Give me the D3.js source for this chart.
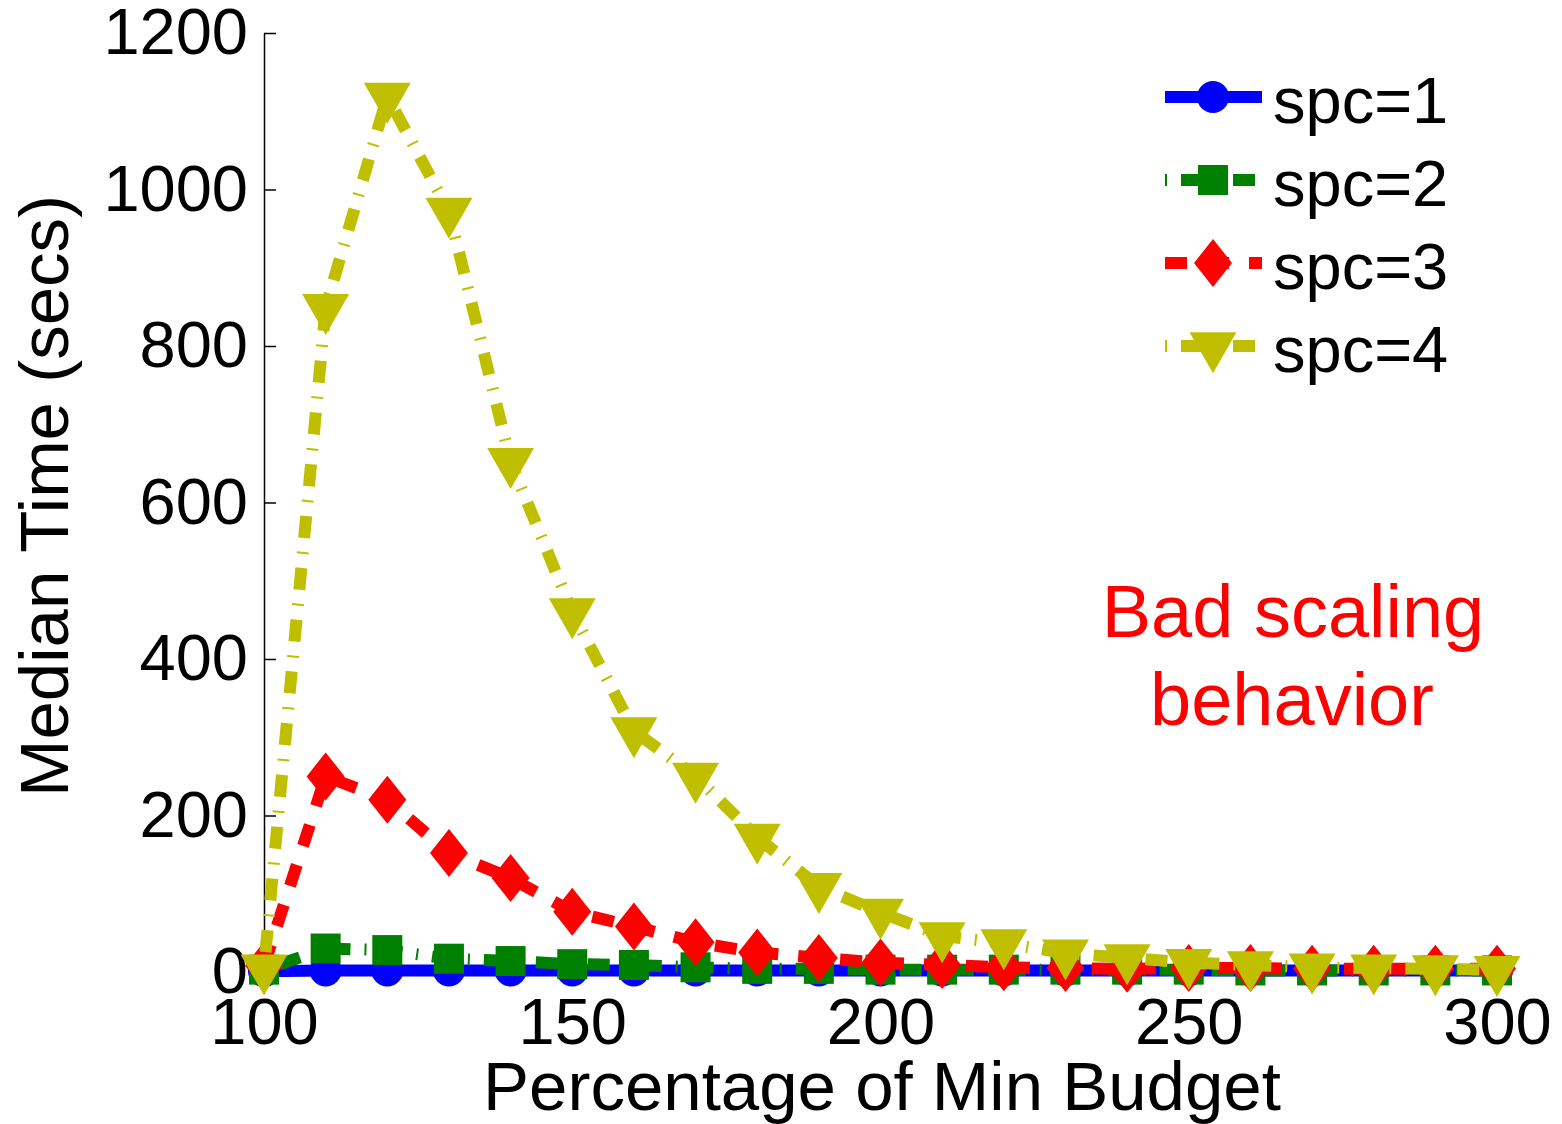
<!DOCTYPE html>
<html>
<head>
<meta charset="utf-8">
<script src="https://cdn.jsdelivr.net/npm/d3@7"></script>
<style>
  html, body { margin: 0; padding: 0; background: #fff; }
  svg { display: block; font-family: Arial, "Liberation Sans", sans-serif; }
</style>
</head>
<body>
<div id="chart"></div>
<script>
// x values (percentage of min budget)
const budget = [100, 110, 120, 130, 140, 150, 160, 170, 180, 190, 200,
                210, 220, 230, 240, 250, 260, 270, 280, 290, 300];

// median time (secs) per series
const spc1 = [1, 2, 2, 2, 2, 2, 2, 2, 2, 2, 2, 2, 2, 2, 2, 2, 2, 2, 2, 2, 2];
const spc2 = [3, 30, 28, 17, 14, 10, 9, 6, 4, 4, 3, 3, 3, 3, 3, 3, 2, 2, 2, 2, 2];
const spc3 = [8, 250, 220, 152, 120, 77, 58, 38, 25, 18, 12, 9, 6, 5, 4, 5, 5, 4, 4, 4, 4];
const spc4 = [5, 849, 1119, 972, 652, 460, 308, 250, 172, 109, 76, 46, 37, 24, 18, 12, 9, 6, 5, 4, 3];

const seriesNames = ['spc=1', 'spc=2', 'spc=3', 'spc=4'];
const xTicks = [100, 150, 200, 250, 300];
const yTicks = [0, 200, 400, 600, 800, 1000, 1200];

const W = 1562, H = 1124;

const series = [
    { name: seriesNames[0], values: spc1, color: '#0000ff', dash: null, marker: 'circle' },
    { name: seriesNames[1], values: spc2, color: '#008000', dash: '2,14,22,14', marker: 'square' },
    { name: seriesNames[2], values: spc3, color: '#ff0000', dash: '22,20', marker: 'diamond' },
    { name: seriesNames[3], values: spc4, color: '#bfbf00', dash: '2,14,22,14', marker: 'triangle' }
];

const x = d3.scaleLinear().domain([100, 300]).range([264, 1497]);
const y = d3.scaleLinear().domain([0, 1200]).range([972, 33]);

const svg = d3.select('#chart').append('svg')
    .attr('width', W)
    .attr('height', H);

// marker shapes, drawn around (0,0)
function markerPath(type) {
    switch (type) {
        case 'circle':
            return 'M-16,0A16,16 0 1,0 16,0A16,16 0 1,0 -16,0Z';
        case 'square':
            return 'M-15,-15H15V15H-15Z';
        case 'diamond':
            return 'M0,-24L19,0L0,24L-19,0Z';
        case 'triangle':
            return 'M-23.5,-13.7L23.5,-13.7L0,27.3Z';
    }
}

// axes
const yAxis = svg.append('g')
    .attr('transform', `translate(${x(100)},0)`)
    .call(d3.axisLeft(y).tickValues(yTicks).tickFormat(d3.format('d'))
        .tickSizeInner(-12).tickSizeOuter(0).tickPadding(16));

const xAxis = svg.append('g')
    .attr('transform', `translate(0,${y(0)})`)
    .call(d3.axisBottom(x).tickValues(xTicks).tickFormat(d3.format('d'))
        .tickSizeInner(-12).tickSizeOuter(0).tickPadding(26));

[yAxis, xAxis].forEach(ax => {
    ax.select('.domain').attr('stroke', '#000').attr('stroke-width', 1.5);
    ax.selectAll('.tick line').attr('stroke', '#000').attr('stroke-width', 1.5);
    ax.selectAll('.tick text')
        .attr('fill', '#000')
        .style('font-size', '65px')
        .style('font-family', 'Arial, "Liberation Sans", sans-serif');
});

// series lines and markers
const line = d3.line()
    .x((d, i) => x(budget[i]))
    .y(d => y(d));

series.forEach(s => {
    const g = svg.append('g').attr('class', 'series');
    g.append('path')
        .attr('d', line(s.values))
        .attr('fill', 'none')
        .attr('stroke', s.color)
        .attr('stroke-width', 12)
        .attr('stroke-linejoin', 'miter')
        .attr('stroke-dasharray', s.dash);
    g.selectAll('.marker')
        .data(s.values)
        .enter()
        .append('path')
        .attr('class', 'marker')
        .attr('transform', (d, i) => `translate(${x(budget[i])},${y(d)})`)
        .attr('d', markerPath(s.marker))
        .attr('fill', s.color);
});

// axis titles
svg.append('text')
    .attr('x', 882)
    .attr('y', 1110)
    .attr('text-anchor', 'middle')
    .style('font-size', '69px')
    .text('Percentage of Min Budget');

svg.append('text')
    .attr('transform', 'translate(68,496) rotate(-90)')
    .attr('text-anchor', 'middle')
    .style('font-size', '69px')
    .text('Median Time (secs)');

// annotation
const note = svg.append('text')
    .attr('text-anchor', 'middle')
    .attr('fill', '#ff0000')
    .style('font-size', '74px');
note.append('tspan').attr('x', 1293).attr('y', 637).text('Bad scaling');
note.append('tspan').attr('x', 1292).attr('y', 725).text('behavior');

// legend
const legend = svg.append('g').attr('class', 'legend');
const legendItems = legend.selectAll('.legend-item')
    .data(series)
    .enter()
    .append('g')
    .attr('class', 'legend-item')
    .attr('transform', (d, i) => `translate(0,${97 + i * 83})`);

legendItems.append('path')
    .attr('d', 'M1165,0H1262')
    .attr('stroke', d => d.color)
    .attr('stroke-width', 12)
    .attr('stroke-dasharray', d => d.dash);

legendItems.append('path')
    .attr('transform', 'translate(1213,0)')
    .attr('d', d => markerPath(d.marker))
    .attr('fill', d => d.color);

legendItems.append('text')
    .attr('x', 1273)
    .attr('y', 26)
    .style('font-size', '65px')
    .text(d => d.name);
</script>
</body>
</html>
